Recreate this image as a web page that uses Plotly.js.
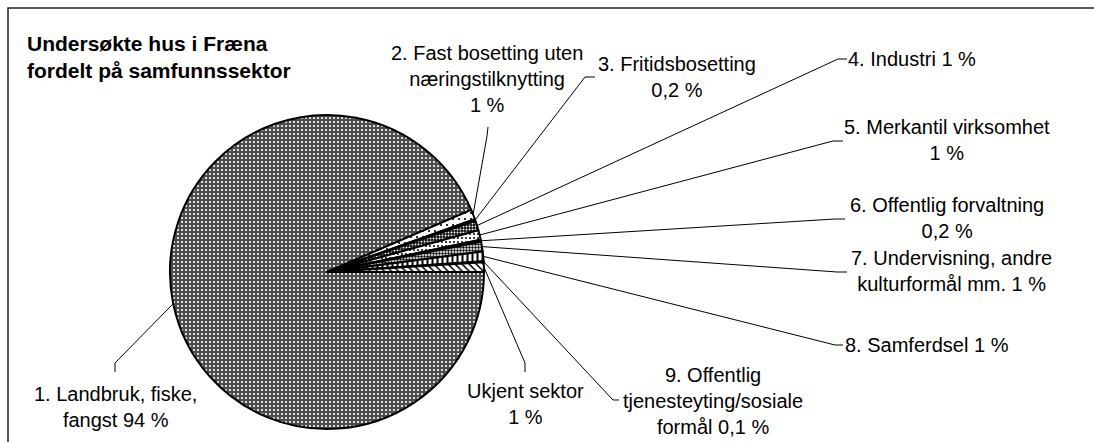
<!DOCTYPE html>
<html>
<head>
<meta charset="utf-8">
<script src="https://cdn.plot.ly/plotly-3.0.1.min.js"></script>
<style>html,body{margin:0;padding:0;background:#fff;overflow:hidden}#chart{width:1094px;height:442px}</style>
</head>
<body>
<div id="chart"></div>
<script>
// ---- data ----
const categories = [
  "1. Landbruk, fiske, fangst",
  "2. Fast bosetting uten næringstilknytting",
  "3. Fritidsbosetting",
  "4. Industri",
  "5. Merkantil virksomhet",
  "6. Offentlig forvaltning",
  "7. Undervisning, andre kulturformål mm.",
  "8. Samferdsel",
  "9. Offentlig tjenesteyting/sosiale formål",
  "Ukjent sektor"
];
const shares = [94, 1, 0.2, 1, 1, 0.2, 1, 1, 0.1, 1];
const labelTexts = [
  "1. Landbruk, fiske,<br>fangst 94 %",
  "2. Fast bosetting uten<br>næringstilknytting<br>1 %",
  "3. Fritidsbosetting<br>0,2 %",
  "4. Industri 1 %",
  "5. Merkantil virksomhet<br>1 %",
  "6. Offentlig forvaltning<br>0,2 %",
  "7. Undervisning, andre<br>kulturformål mm. 1 %",
  "8. Samferdsel 1 %",
  "9. Offentlig<br>tjenesteyting/sosiale<br>formål 0,1 %",
  "Ukjent sektor<br>1 %"
];
const titleText = "Undersøkte hus i Fræna<br>fordelt på samfunnssektor";

// ---- layout (pixel positions) ----
const W = 1094, H = 442;
const cx = 327, cy = 272, R = 157;
const labelPos = [[116,407],[487,79],[677,77],[912,59],[947,140],[947,218],[951,271],[927,345],[713,401],[525,404]];
const elbows = [[115,363],[487,136],[585,77],[838,59],[833,141],[835,219],[837,272],[835,345],[613,400],[525,363]];
const ends   = [[115,372],[488,127],[595,77],[847,59],[843,141],[845,219],[847,272],[843,345],[619,400],[525,372]];

const patterns = [
  {shape:".", bgcolor:"#4d4d4d", fgcolor:"#ffffff", size:4, solidity:0.22},
  {shape:".", bgcolor:"#ffffff", fgcolor:"#000000", size:6, solidity:0.1},
  {shape:"x", bgcolor:"#000000", fgcolor:"#ffffff", size:3, solidity:0.3},
  {shape:".", bgcolor:"#111111", fgcolor:"#ffffff", size:3, solidity:0.3},
  {shape:".", bgcolor:"#ffffff", fgcolor:"#000000", size:4, solidity:0.2},
  {shape:"x", bgcolor:"#ffffff", fgcolor:"#555555", size:4, solidity:0.3},
  {shape:".", bgcolor:"#ffffff", fgcolor:"#000000", size:3, solidity:0.5},
  {shape:"|", bgcolor:"#ffffff", fgcolor:"#000000", size:5, solidity:0.4},
  {shape:"+", bgcolor:"#ffffff", fgcolor:"#000000", size:4, solidity:0.3},
  {shape:"\\", bgcolor:"#ffffff", fgcolor:"#000000", size:5, solidity:0.3}
];

const px = x => x / W;
const py = y => 1 - y / H;

const trace = {
  type: "pie",
  labels: categories,
  values: shares,
  sort: false,
  direction: "clockwise",
  rotation: 90,
  textinfo: "none",
  hoverinfo: "label+percent",
  showlegend: false,
  domain: {x: [px(cx - R), px(cx + R)], y: [py(cy + R), py(cy - R)]},
  marker: {
    colors: patterns.map(p => p.bgcolor),
    line: {color: "#000000", width: 2},
    pattern: {
      shape: patterns.map(p => p.shape),
      bgcolor: patterns.map(p => p.bgcolor),
      fgcolor: patterns.map(p => p.fgcolor),
      size: patterns.map(p => p.size),
      solidity: patterns.map(p => p.solidity),
      fillmode: "replace"
    }
  }
};

// leader lines from slice mid-angles
const total = shares.reduce((a, b) => a + b, 0);
let cum = 0;
const shapes = [];
shares.forEach((v, i) => {
  const mid = (cum + v / 2) / total * 2 * Math.PI; // clockwise from 3 o'clock
  cum += v;
  const ex = cx + R * Math.cos(mid);
  const ey = cy + R * Math.sin(mid);
  const [bx, by] = elbows[i];
  const [tx, ty] = ends[i];
  shapes.push({
    type: "path", xref: "paper", yref: "paper",
    path: `M ${px(ex)},${py(ey)} L ${px(bx)},${py(by)} L ${px(tx)},${py(ty)}`,
    line: {color: "#000000", width: 1}
  });
});
// outer frame (top and left edges; right and bottom are cut off in the reference)
shapes.push({type: "path", xref: "paper", yref: "paper",
  path: `M ${px(1094 + 20)},${py(8)} L ${px(8)},${py(8)} L ${px(8)},${py(442 + 20)}`,
  line: {color: "#222222", width: 1.5}});

const annotations = labelTexts.map((t, i) => ({
  xref: "paper", yref: "paper",
  x: px(labelPos[i][0]), y: py(labelPos[i][1]),
  xanchor: "center", yanchor: "middle",
  text: t, showarrow: false, align: "center",
  font: {family: "Liberation Sans, Arial, sans-serif", size: 20, color: "#000000"}
}));
annotations.push({
  xref: "paper", yref: "paper", x: px(25), y: py(57),
  xanchor: "left", yanchor: "middle", align: "left",
  text: "<b>" + titleText.replace("<br>", "</b><br><b>") + "</b>",
  showarrow: false,
  font: {family: "Liberation Sans, Arial, sans-serif", size: 21, color: "#000000"}
});

const layout = {
  width: W, height: H,
  margin: {l: 0, r: 0, t: 0, b: 0},
  paper_bgcolor: "#ffffff",
  shapes: shapes,
  annotations: annotations,
  font: {family: "Liberation Sans, Arial, sans-serif"}
};

Plotly.newPlot("chart", [trace], layout, {displayModeBar: false, staticPlot: true});
</script>
</body>
</html>
